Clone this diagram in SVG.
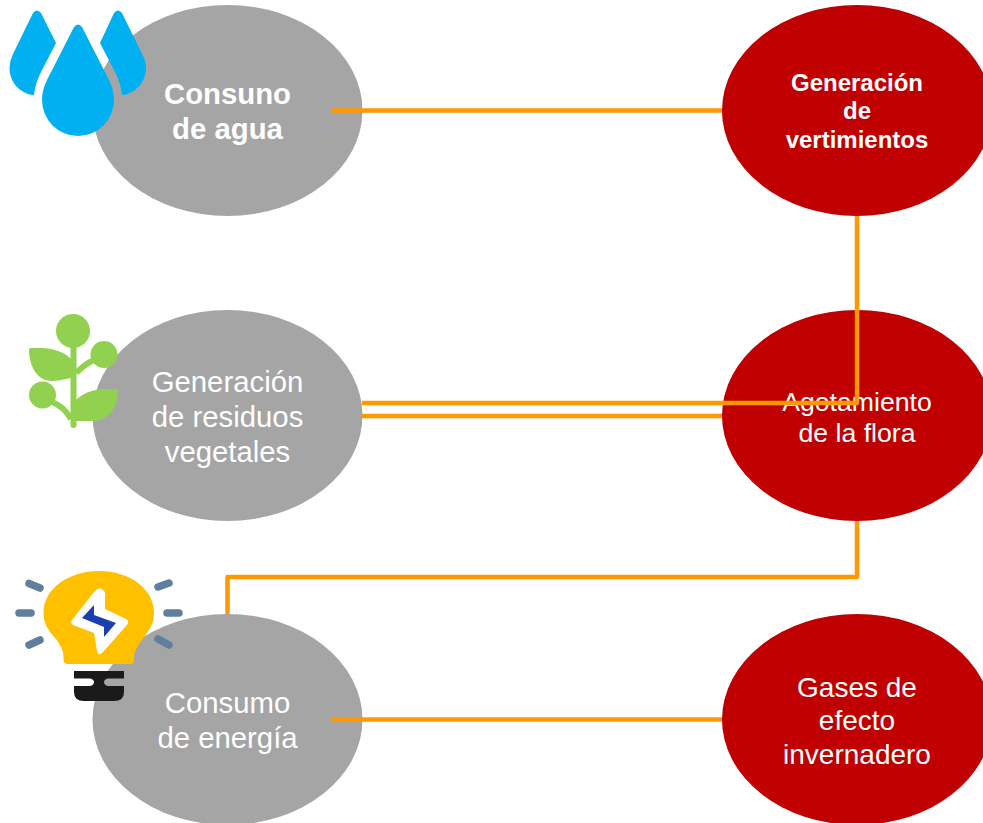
<svg xmlns="http://www.w3.org/2000/svg" width="983" height="823" viewBox="0 0 983 823">
<style>
.g{fill:#a5a5a5}.r{fill:#c00000}
text{font-family:"Liberation Sans",Arial,sans-serif;fill:#fff;text-anchor:middle}
.b29{font-size:29.33px;font-weight:bold}.b24{font-size:24px;font-weight:bold}.t29{font-size:29.33px}.t27{font-size:26.67px}.t28{font-size:28px}
.c{fill:none;stroke:#ff9900;stroke-width:4.5;stroke-linejoin:round}
.ray{fill:none;stroke:#5f7f9c;stroke-width:7.500;stroke-linecap:round}
.br{fill:none;stroke:#92d050;stroke-width:6}
</style>
<rect width="983" height="823" fill="#fff"/>
<g id="node-agua"><ellipse class="g" cx="227.5" cy="110.500" rx="135" ry="105.500"/><text class="b29" x="227.500" y="104">Consuno</text><text class="b29" x="227.500" y="139">de agua</text></g>
<g id="node-residuos"><ellipse class="g" cx="227.500" cy="415.500" rx="135" ry="105.500"/><text class="t29" x="227.500" y="392">Generación</text><text class="t29" x="227.500" y="427">de residuos</text><text class="t29" x="227.500" y="462">vegetales</text></g>
<g id="node-energia"><ellipse class="g" cx="227.500" cy="719.500" rx="135" ry="105.500"/><text class="t29" x="227.500" y="713">Consumo</text><text class="t29" x="227.500" y="748">de energía</text></g>
<g id="node-vertimientos"><ellipse class="r" cx="857" cy="110.500" rx="135" ry="105.500"/><text class="b24" x="857" y="91">Generación</text><text class="b24" x="857" y="119">de</text><text class="b24" x="857" y="148">vertimientos</text></g>
<g id="node-flora"><ellipse class="r" cx="857" cy="415.500" rx="135" ry="105.500"/><text class="t27" x="857" y="411">Agotamiento</text><text class="t27" x="857" y="442">de la flora</text></g>
<g id="node-gases"><ellipse class="r" cx="857" cy="719.500" rx="135" ry="105.500"/><text class="t28" x="857" y="697">Gases de</text><text class="t28" x="857" y="730">efecto</text><text class="t28" x="857" y="764">invernadero</text></g>
<g id="connectors">
<path class="c" d="M332 110.500H722"/>
<path class="c" d="M857 216V403H362"/>
<path class="c" d="M362 416H722"/>
<path class="c" d="M857 521V577H227.500V614"/>
<path class="c" d="M332 719.500H722"/>
</g>
<g id="icon-agua" fill="#00b0f0">
<path d="M33 13Q37 8 41 13L56 43L41 72Q35 84 34 95C20 94 9.500 82 9.500 68Q9.500 61 13 54Z"/>
<path d="M114 13Q118 8 122 13L142 54Q146 61 146 68C146 82 135 94 122 95Q121 84 115 72L100 43Z"/>
<path d="M74 27Q78 22 82 27L109 80Q114 90 114 100A36 36 0 0 1 42 100Q42 90 47 80Z"/>
</g>
<g id="icon-planta" fill="#92d050">
<circle cx="73" cy="331" r="17"/><circle cx="104" cy="354.500" r="13.500"/><circle cx="42.500" cy="395" r="13.500"/>
<path d="M70.500 345H76.500V425A3 3 0 0 1 70.500 425Z"/>
<path d="M31 348H40C54 348 64 352 71 359V378C62 380 57 381 52 381C37 381 29 366 29 350Q29 348 31 348Z"/>
<path d="M116 389H105C92 389 82 394 76 400V421H92C108 421 118 408 118 391Q118 389 116 389Z"/>
<path class="br" d="M76 373C81 368 87 363 94 360"/>
<path class="br" d="M52 402C60 405 66 410 71 419"/>
</g>
<g id="icon-energia">
<path d="M99 571C130 571 154 589 154 613C154 625 148 632 142 640Q134 650 134 658V660Q134 664 130 664H68Q64 664 63.500 660V656Q63 648 56 639C50 632 43.500 625 43.500 613C43.500 589 68 571 99 571Z" fill="#ffc000"/>
<path d="M95 591Q100 586 103 590Q106 592 105 597L105 609L126 619Q130 621 127 625L103 652Q98 657 97 651L94 633L73 625Q70 623 72 620Z" fill="#fff"/>
<path d="M94 605L82 618L104 627V637L116 623L94 615Z" fill="#1a3fb0"/>
<path d="M74 671H124V678.500H108Q104 679.500 104 682Q104 685 108 686H124V692Q124 701 114 701H84Q74 701 74 692V686H90Q94 685 94 682Q94 679.500 90 678.500H74Z" fill="#1a1a1a"/>
<path class="ray" d="M29 583.500L40 588M158 587L169 583M19 613H31M167 613H179M29 645L40 640M158 639L169 645"/>
</g>
</svg>
